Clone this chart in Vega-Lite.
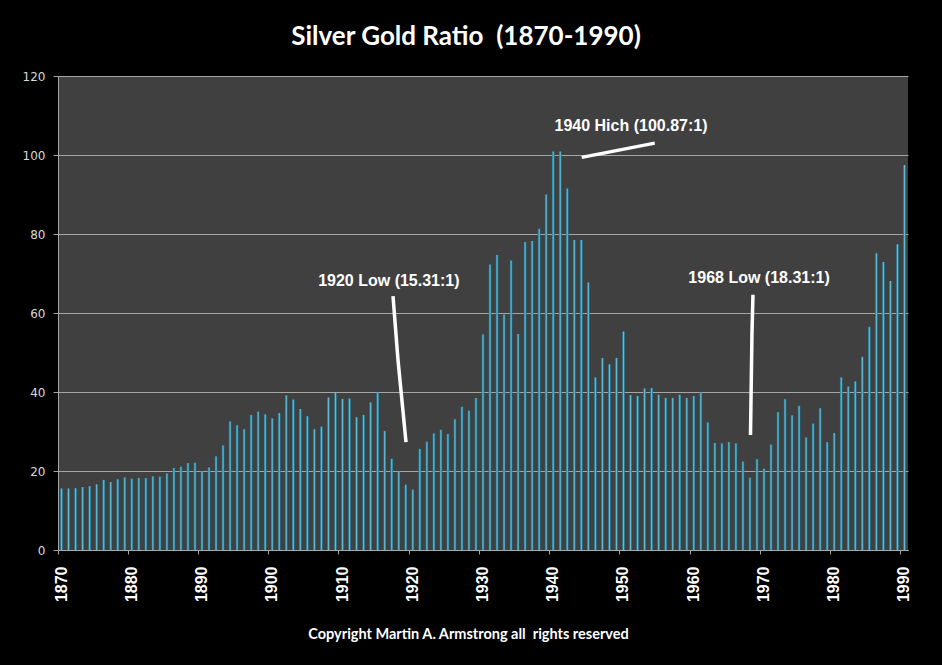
{
  "$schema": "https://vega.github.io/schema/vega-lite/v6.json",
  "width": 850,
  "height": 474,
  "autosize": "none",
  "padding": {"left": 58, "top": 76, "right": 34, "bottom": 115},
  "background": "#000000",
  "config": {
    "view": {"fill": "#404040", "stroke": null}
  },
  "title": {
    "text": "Silver Gold Ratio\u00a0 (1870-1990)",
    "font": "Lato",
    "fontWeight": "bold",
    "fontSize": 26,
    "color": "#ffffff",
    "anchor": "middle",
    "dx": -17,
    "dy": 28,
    "baseline": "alphabetic",
    "offset": 27
  },
  "datasets": {
    "ratio": [
      {"year": 1870, "ratio": 15.57}, {"year": 1871, "ratio": 15.57}, {"year": 1872, "ratio": 15.63},
      {"year": 1873, "ratio": 15.93}, {"year": 1874, "ratio": 16.16}, {"year": 1875, "ratio": 16.64},
      {"year": 1876, "ratio": 17.75}, {"year": 1877, "ratio": 17.2}, {"year": 1878, "ratio": 17.92},
      {"year": 1879, "ratio": 18.39}, {"year": 1880, "ratio": 18.05}, {"year": 1881, "ratio": 18.25},
      {"year": 1882, "ratio": 18.2}, {"year": 1883, "ratio": 18.64}, {"year": 1884, "ratio": 18.57},
      {"year": 1885, "ratio": 19.41}, {"year": 1886, "ratio": 20.78}, {"year": 1887, "ratio": 21.1},
      {"year": 1888, "ratio": 22.0}, {"year": 1889, "ratio": 22.1}, {"year": 1890, "ratio": 19.9},
      {"year": 1891, "ratio": 20.92}, {"year": 1892, "ratio": 23.72}, {"year": 1893, "ratio": 26.49},
      {"year": 1894, "ratio": 32.56}, {"year": 1895, "ratio": 31.6}, {"year": 1896, "ratio": 30.59},
      {"year": 1897, "ratio": 34.2}, {"year": 1898, "ratio": 35.03}, {"year": 1899, "ratio": 34.36},
      {"year": 1900, "ratio": 33.33}, {"year": 1901, "ratio": 34.68}, {"year": 1902, "ratio": 39.15},
      {"year": 1903, "ratio": 38.1}, {"year": 1904, "ratio": 35.7}, {"year": 1905, "ratio": 33.87},
      {"year": 1906, "ratio": 30.54}, {"year": 1907, "ratio": 31.24}, {"year": 1908, "ratio": 38.64},
      {"year": 1909, "ratio": 39.74}, {"year": 1910, "ratio": 38.22}, {"year": 1911, "ratio": 38.33},
      {"year": 1912, "ratio": 33.62}, {"year": 1913, "ratio": 34.19}, {"year": 1914, "ratio": 37.37},
      {"year": 1915, "ratio": 39.84}, {"year": 1916, "ratio": 30.11}, {"year": 1917, "ratio": 23.09},
      {"year": 1918, "ratio": 19.84}, {"year": 1919, "ratio": 16.53}, {"year": 1920, "ratio": 15.31},
      {"year": 1921, "ratio": 25.6}, {"year": 1922, "ratio": 27.41}, {"year": 1923, "ratio": 29.52},
      {"year": 1924, "ratio": 30.43}, {"year": 1925, "ratio": 29.38}, {"year": 1926, "ratio": 33.1},
      {"year": 1927, "ratio": 36.27}, {"year": 1928, "ratio": 35.29}, {"year": 1929, "ratio": 38.48},
      {"year": 1930, "ratio": 54.6}, {"year": 1931, "ratio": 72.3}, {"year": 1932, "ratio": 74.7},
      {"year": 1933, "ratio": 59.6}, {"year": 1934, "ratio": 73.3}, {"year": 1935, "ratio": 54.7},
      {"year": 1936, "ratio": 78.0}, {"year": 1937, "ratio": 78.2}, {"year": 1938, "ratio": 81.3},
      {"year": 1939, "ratio": 90.0}, {"year": 1940, "ratio": 100.87}, {"year": 1941, "ratio": 100.87},
      {"year": 1942, "ratio": 91.5}, {"year": 1943, "ratio": 78.5}, {"year": 1944, "ratio": 78.5},
      {"year": 1945, "ratio": 67.7}, {"year": 1946, "ratio": 43.7}, {"year": 1947, "ratio": 48.6},
      {"year": 1948, "ratio": 47.0}, {"year": 1949, "ratio": 48.6}, {"year": 1950, "ratio": 55.3},
      {"year": 1951, "ratio": 39.2}, {"year": 1952, "ratio": 39.0}, {"year": 1953, "ratio": 40.9},
      {"year": 1954, "ratio": 41.0}, {"year": 1955, "ratio": 39.3}, {"year": 1956, "ratio": 38.5},
      {"year": 1957, "ratio": 38.5}, {"year": 1958, "ratio": 39.3}, {"year": 1959, "ratio": 38.5},
      {"year": 1960, "ratio": 39.0}, {"year": 1961, "ratio": 39.9}, {"year": 1962, "ratio": 32.3},
      {"year": 1963, "ratio": 27.1}, {"year": 1964, "ratio": 27.0}, {"year": 1965, "ratio": 27.3},
      {"year": 1966, "ratio": 27.0}, {"year": 1967, "ratio": 22.4}, {"year": 1968, "ratio": 18.31},
      {"year": 1969, "ratio": 23.0}, {"year": 1970, "ratio": 20.6}, {"year": 1971, "ratio": 26.7},
      {"year": 1972, "ratio": 34.9}, {"year": 1973, "ratio": 38.2}, {"year": 1974, "ratio": 34.1},
      {"year": 1975, "ratio": 36.5}, {"year": 1976, "ratio": 28.5}, {"year": 1977, "ratio": 32.0},
      {"year": 1978, "ratio": 35.9}, {"year": 1979, "ratio": 27.3}, {"year": 1980, "ratio": 29.6},
      {"year": 1981, "ratio": 43.7}, {"year": 1982, "ratio": 41.4}, {"year": 1983, "ratio": 42.7},
      {"year": 1984, "ratio": 48.9}, {"year": 1985, "ratio": 56.5}, {"year": 1986, "ratio": 75.1},
      {"year": 1987, "ratio": 72.9}, {"year": 1988, "ratio": 68.1}, {"year": 1989, "ratio": 77.4},
      {"year": 1990, "ratio": 97.5}
    ],
    "pointers": [
      {"id": "high1940", "seq": 1, "year": 1944.55, "ratio": 99.4},
      {"id": "high1940", "seq": 2, "year": 1954.95, "ratio": 103.0},
      {"id": "low1920", "seq": 1, "year": 1917.69, "ratio": 64.3},
      {"id": "low1920", "seq": 2, "year": 1918.4, "ratio": 48.1},
      {"id": "low1920", "seq": 3, "year": 1919.54, "ratio": 27.3},
      {"id": "low1968", "seq": 1, "year": 1968.93, "ratio": 64.6},
      {"id": "low1968", "seq": 2, "year": 1968.79, "ratio": 54.9},
      {"id": "low1968", "seq": 3, "year": 1968.65, "ratio": 38.0},
      {"id": "low1968", "seq": 4, "year": 1968.58, "ratio": 29.1}
    ],
    "notes": [
      {"label": "1940 Hich (100.87:1)", "year": 1951.57, "ratio": 107.3},
      {"label": "1920 Low (15.31:1)", "year": 1917.1, "ratio": 68.1},
      {"label": "1968 Low (18.31:1)", "year": 1969.8, "ratio": 68.9}
    ]
  },
  "layer": [
    {
      "data": {"name": "ratio"},
      "mark": {
        "type": "bar",
        "width": {"band": 0.38},
        "color": {
          "gradient": "linear",
          "x1": 0, "x2": 1, "y1": 0, "y2": 0,
          "stops": [
            {"offset": 0, "color": "#1d6a85"},
            {"offset": 0.5, "color": "#5cbfd8"},
            {"offset": 1, "color": "#1d6a85"}
          ]
        }
      },
      "encoding": {
        "x": {
          "field": "year",
          "type": "ordinal",
          "sort": "ascending",
          "scale": {"paddingInner": 0, "paddingOuter": 0},
          "axis": {
            "values": [1870, 1880, 1890, 1900, 1910, 1920, 1930, 1940, 1950, 1960, 1970, 1980, 1990],
            "bandPosition": 0,
            "labelAngle": 270,
            "labelFont": "Liberation Sans",
            "labelFontWeight": "bold",
            "labelFontSize": 16,
            "labelColor": "#ffffff",
            "labelPadding": 12,
            "tickSize": 4,
            "tickColor": "#a6a6a6",
            "domainColor": "#a6a6a6",
            "grid": false,
            "title": "Copyright Martin A. Armstrong all\u00a0 rights reserved",
            "titleFont": "Lato",
            "titleFontWeight": "bold",
            "titleFontSize": 14.5,
            "titleColor": "#ffffff",
            "titleX": 410,
            "titleY": 88,
            "titleBaseline": "alphabetic",
            "titleAnchor": "middle"
          }
        },
        "y": {
          "field": "ratio",
          "type": "quantitative",
          "scale": {"domain": [0, 120], "nice": false},
          "axis": {
            "values": [0, 20, 40, 60, 80, 100, 120],
            "title": null,
            "labelFont": "DejaVu Sans",
            "labelFontSize": 12,
            "labelColor": "#d9d9d9",
            "labelPadding": 8,
            "tickSize": 5,
            "tickColor": "#a6a6a6",
            "domainColor": "#a6a6a6",
            "grid": true,
            "gridColor": "#a6a6a6",
            "gridWidth": 1
          }
        }
      }
    },
    {
      "data": {"name": "pointers"},
      "mark": {"type": "line", "color": "#ffffff", "strokeWidth": 3.5, "strokeCap": "butt"},
      "encoding": {
        "x": {"field": "year", "type": "quantitative", "scale": {"domain": [1870, 1991], "nice": false, "zero": false}, "axis": null},
        "y": {"field": "ratio", "type": "quantitative"},
        "detail": {"field": "id"},
        "order": {"field": "seq"}
      }
    },
    {
      "data": {"name": "notes"},
      "mark": {"type": "text", "font": "Liberation Sans", "fontWeight": "bold", "fontSize": 16, "color": "#ffffff", "align": "center", "baseline": "middle"},
      "encoding": {
        "x": {"field": "year", "type": "quantitative", "scale": {"domain": [1870, 1991], "nice": false, "zero": false}, "axis": null},
        "y": {"field": "ratio", "type": "quantitative"},
        "text": {"field": "label"}
      }
    }
  ],
  "resolve": {"scale": {"x": "independent"}, "axis": {"x": "independent"}}
}
